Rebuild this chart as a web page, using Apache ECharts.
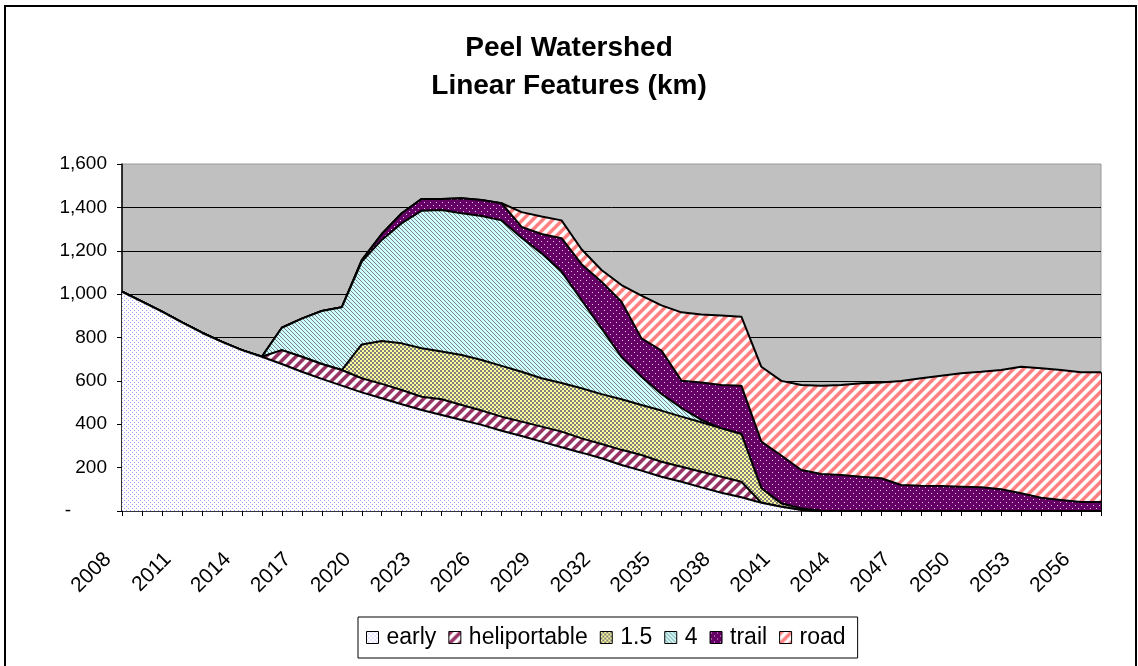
<!DOCTYPE html>
<html>
<head>
<meta charset="utf-8">
<script src="https://cdn.jsdelivr.net/npm/echarts@6/dist/echarts.min.js"></script>
<style>
html,body{margin:0;padding:0;background:#fff;}
#chart{width:1138px;height:666px;}
</style>
</head>
<body>
<div id="chart"></div>
<script>
const years = ['2008','2009','2010','2011','2012','2013','2014','2015','2016','2017',
  '2018','2019','2020','2021','2022','2023','2024','2025','2026','2027',
  '2028','2029','2030','2031','2032','2033','2034','2035','2036','2037',
  '2038','2039','2040','2041','2042','2043','2044','2045','2046','2047',
  '2048','2049','2050','2051','2052','2053','2054','2055','2056','2057'];

const early = [1011,965,919,870,822,780,742,711,678,642,
  609,578,547,520,492,466,443,420,397,370,
  346,320,294,269,243,212,186,158,135,109,
  84,63,38,20,5,0,0,0,0,0,
  0,0,0,0,0,0,0,0,0,0];
const heliportable = [0,0,0,0,0,0,0,0,64,69,
  69,72,65,66,66,61,72,69,66,65,
  66,69,72,66,66,70,72,69,69,72,
  74,72,0,0,0,0,0,0,0,0,
  0,0,0,0,0,0,0,0,0,0];
const s15 = [0,0,0,0,0,0,0,0,0,0,
  0,0,156,198,215,223,220,230,233,234,
  230,223,224,231,230,233,231,236,231,228,
  223,220,67,15,7,0,0,0,0,0,
  0,0,0,0,0,0,0,0,0,0];
const s4 = [0,0,0,0,0,0,0,0,103,176,
  244,289,382,466,554,635,653,654,664,671,
  618,576,514,407,303,195,130,77,40,11,
  0,0,0,0,0,0,0,0,0,0,
  0,0,0,0,0,0,0,0,0,0];
const trail = [0,0,0,0,0,0,0,0,0,0,
  0,0,7,27,46,54,51,69,74,79,
  50,89,154,165,215,255,177,200,126,172,
  200,223,215,221,177,171,166,158,151,120,
  117,115,112,109,100,82,61,51,41,41];
const road = [0,0,0,0,0,0,0,0,0,0,
  0,0,0,0,0,0,0,0,0,0,
  68,81,82,69,54,77,197,208,315,314,
  320,318,345,344,392,407,415,431,442,479,
  495,509,523,533,550,583,597,599,599,599];

const seriesNames = ['early','heliportable','1.5','4','trail','road'];
const seriesData = [early, heliportable, s15, s4, trail, road];
const yTicks = [0,200,400,600,800,1000,1200,1400,1600];

function makePattern(size, pick) {
  const c = document.createElement('canvas');
  c.width = size; c.height = size;
  const ctx = c.getContext('2d');
  for (let y = 0; y < size; y++) {
    for (let x = 0; x < size; x++) {
      ctx.fillStyle = pick(x, y);
      ctx.fillRect(x, y, 1, 1);
    }
  }
  return { image: c, repeat: 'repeat' };
}
const patterns = [
  makePattern(4, (x, y) => ((x === 0 && y === 0) || (x === 2 && y === 2)) ? '#9c9cff' : '#ffffff'),
  makePattern(10, (x, y) => { const d = (x + y) % 10; return d < 4 ? '#993366' : (d === 4 || d === 9) ? '#c896ae' : '#ffffff'; }),
  makePattern(4, (x, y) => (((x >> 1) + (y >> 1)) % 2) ? '#808080' : '#ffff99'),
  makePattern(4, (x, y) => ((x - y + 8) % 4 === 0) ? '#808080' : '#ccffff'),
  makePattern(6, (x, y) => ((x === 1 && y === 1) || (x === 4 && y === 4)) ? '#e8cce8' : '#660066'),
  makePattern(10, (x, y) => { const d = (x + y) % 10; return d < 4 ? '#ff8080' : (d === 4 || d === 9) ? '#ffc0c0' : '#ffffff'; })
];

const FONT = '"Liberation Sans", Arial, sans-serif';
const lastIdx = years.length - 1;
const lastTotal = seriesData.reduce((s, arr) => s + arr[lastIdx], 0);

const series = seriesNames.map((name, k) => {
  const s = {
    name: name,
    type: 'line',
    stack: 'total',
    data: seriesData[k],
    symbol: 'none',
    smooth: false,
    z: 10 - k,
    itemStyle: { color: patterns[k], borderColor: '#000', borderWidth: 1 },
    lineStyle: { color: '#000', width: 2 },
    areaStyle: { color: patterns[k], opacity: 1 },
    emphasis: { disabled: true },
    animation: false
  };
  if (k === 0) {
    s.markLine = {
      silent: true,
      symbol: 'none',
      label: { show: false },
      lineStyle: { color: '#000', width: 2, type: 'solid' },
      data: [[{ coord: [years[lastIdx], 0] }, { coord: [years[lastIdx], lastTotal] }]]
    };
  }
  return s;
});

const chart = echarts.init(document.getElementById('chart'), null, { renderer: 'canvas' });
chart.setOption({
  animation: false,
  backgroundColor: '#ffffff',
  title: {
    text: 'Peel Watershed\nLinear Features (km)',
    left: 'center',
    top: 24,
    textStyle: { fontFamily: FONT, fontWeight: 'bold', fontSize: 28, lineHeight: 38, color: '#000' }
  },
  graphic: [{
    type: 'rect',
    shape: { x: 5, y: 6, width: 1131, height: 670 },
    style: { fill: 'none', stroke: '#000', lineWidth: 2 },
    silent: true, z: 100
  }],
  grid: {
    left: 122, right: 37, top: 164, bottom: 155,
    show: true, backgroundColor: '#c0c0c0', borderColor: '#9a9a9a', borderWidth: 1
  },
  legend: {
    data: seriesNames,
    left: 358, top: 617,
    orient: 'horizontal',
    icon: 'rect',
    itemWidth: 12, itemHeight: 12, itemGap: 12,
    padding: [9, 12, 9, 8],
    borderColor: '#000', borderWidth: 1, backgroundColor: '#fff',
    itemStyle: { borderColor: '#000', borderWidth: 1 },
    textStyle: { fontFamily: FONT, fontSize: 23, color: '#000', padding: [0, 0, 0, 3] },
    selectedMode: false
  },
  xAxis: {
    type: 'category',
    data: years,
    boundaryGap: false,
    axisLine: { lineStyle: { color: '#000', width: 1.5 } },
    axisTick: { show: true, interval: 0, length: 5, lineStyle: { color: '#000' } },
    axisLabel: { interval: 2, rotate: 45, margin: 31, padding: [0, 20, 0, 0], fontFamily: FONT, fontSize: 21, color: '#000' },
    splitLine: { show: false }
  },
  yAxis: {
    type: 'value',
    min: 0, max: 1600, interval: 200,
    axisLine: { show: true, lineStyle: { color: '#000', width: 1.5 } },
    axisTick: { show: true, length: 5, lineStyle: { color: '#000' } },
    axisLabel: {
      margin: 15, fontFamily: FONT, fontSize: 19, color: '#000',
      formatter: function (v) {
        if (v === 0) return '{d|-}';
        return yTicks.indexOf(v) >= 0 ? v.toLocaleString('en-US') : '';
      },
      rich: { d: { fontFamily: FONT, fontSize: 19, color: '#000', padding: [0, 36, 0, 0] } }
    },
    splitLine: { show: true, showMinLine: false, showMaxLine: false, lineStyle: { color: '#000', width: 1 } }
  },
  series: series
});
</script>
</body>
</html>
